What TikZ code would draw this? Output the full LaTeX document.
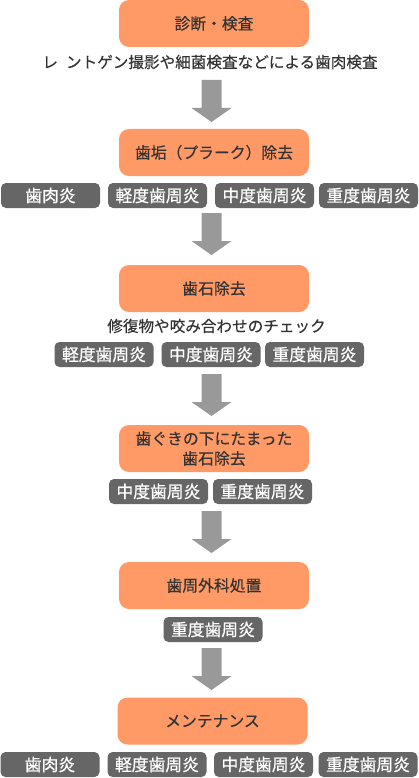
\documentclass[tikz,border=0pt]{standalone}
\usepackage{fontspec}
\setmainfont{Noto Sans CJK JP}
\newfontfamily\tagfont[FakeBold=0.8]{Noto Sans CJK JP}
\newfontfamily\bodyfont[FakeBold=0.3]{Noto Sans CJK JP}
\definecolor{boxorange}{HTML}{FF9966}
\definecolor{taggray}{HTML}{666666}
\definecolor{arrowgray}{HTML}{999999}
\definecolor{txt}{HTML}{333333}
\tikzset{
  stepbox/.style={fill=boxorange, rounded corners=10pt, minimum width=190pt, minimum height=47pt, inner sep=0pt, text=txt, font=\bodyfont\fontsize{15.8}{20}\selectfont, align=center},
  tagbox/.style={fill=taggray, rounded corners=5pt, minimum width=99pt, minimum height=25pt, inner sep=0pt, text=white, font=\tagfont\fontsize{16.8}{18}\selectfont},
  subtext/.style={inner sep=0pt, text=txt, font=\bodyfont\fontsize{15.6}{18}\selectfont},
  blockarrow/.style={fill=arrowgray, draw=none}
}
\begin{document}
\begin{tikzpicture}[x=1pt,y=-1pt]
\useasboundingbox (0,0) rectangle (419,778);
% step boxes
\node[stepbox] (s1) at (214,23.5) {診断・検査};
\node[stepbox] (s2) at (214,152.5) {歯垢（プラーク）除去};
\node[stepbox] (s3) at (214,288.5) {歯石除去};
\node[stepbox] (s4) at (214,448.5) {歯ぐきの下にたまった\\歯石除去};
\node[stepbox] (s5) at (214,585.5) {歯周外科処置};
\node[stepbox] (s6) at (212.5,721) {メンテナンス};
% sub texts
\node[subtext] (t1) at (210,62) {レ\hspace{8pt}ントゲン撮影や細菌検査などによる歯肉検査};
\node[subtext] (t2) at (216.5,326) {修復物や咬み合わせのチェック};
% tags row 1
\node[tagbox] (a1) at (50.5,195.5) {歯肉炎};
\node[tagbox] (a2) at (157.5,195.5) {軽度歯周炎};
\node[tagbox] (a3) at (264.5,195.5) {中度歯周炎};
\node[tagbox] (a4) at (368.5,195.5) {重度歯周炎};
% tags row 2
\node[tagbox] (b1) at (104,354.5) {軽度歯周炎};
\node[tagbox] (b2) at (211,354.5) {中度歯周炎};
\node[tagbox] (b3) at (314.5,354.5) {重度歯周炎};
% tags row 3
\node[tagbox] (c1) at (158.5,491.5) {中度歯周炎};
\node[tagbox] (c2) at (262.5,491.5) {重度歯周炎};
% tag row 4
\node[tagbox] (d1) at (213,629.5) {重度歯周炎};
% tags row 5
\node[tagbox] (e1) at (50,764.5) {歯肉炎};
\node[tagbox] (e2) at (157,764.5) {軽度歯周炎};
\node[tagbox] (e3) at (263.5,764.5) {中度歯周炎};
\node[tagbox] (e4) at (368,764.5) {重度歯周炎};
% block arrows
\foreach \ty in {80,213,374,511,648}{
  \fill[blockarrow] (201.5,\ty) -- (221.5,\ty) -- (221.5,\ty+28) -- (231.5,\ty+28)
    -- (211.5,\ty+42) -- (191.5,\ty+28) -- (201.5,\ty+28) -- cycle;
}
\end{tikzpicture}
\end{document}
